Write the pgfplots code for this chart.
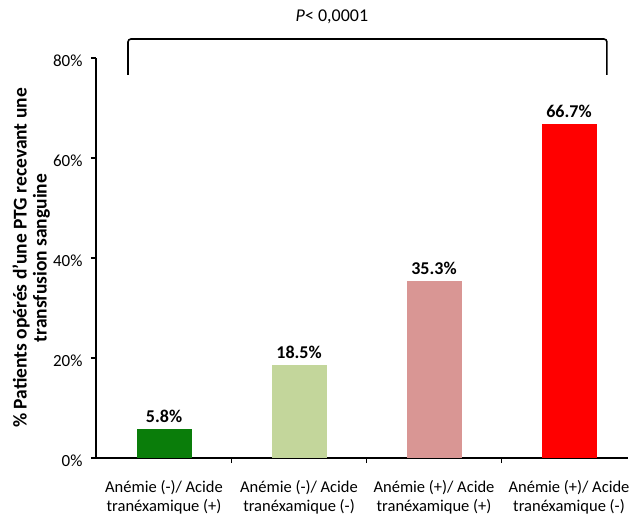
\documentclass[border=0pt]{standalone}
\usepackage{pgfplots}
\pgfplotsset{compat=1.18}
\usepackage{fontspec}
\setmainfont{Carlito}
\definecolor{c1}{RGB}{10,125,10}
\definecolor{c2}{RGB}{195,214,155}
\definecolor{c3}{RGB}{217,150,148}
\definecolor{c4}{RGB}{255,0,0}
\begin{document}
\begin{tikzpicture}
\path[use as bounding box] (-96pt,-59pt) rectangle (534pt,458pt);
\begin{axis}[
  at={(0pt,0pt)}, anchor=south west,
  scale only axis, width=532pt, height=400pt,
  xmin=-0.504, xmax=3.437, ymin=0, ymax=80,
  axis x line=bottom, axis y line=left,
  axis line style={line width=1.6pt,-},
  x axis line style={-}, y axis line style={-},
  xtick={0,1,2,3},
  xticklabels={},
  major x tick style={draw=none},
  minor xtick={0.5,1.5,2.5},
  minor x tick style={line width=1.4pt,black},
  minor tick length=5pt,
  ytick={0,20,40,60,80},
  yticklabel={\pgfmathprintnumber{\tick}\%},
  y tick style={line width=1.4pt,black},
  major tick length=5pt,
  tick align=outside,
  yticklabel style={font=\fontsize{17}{19}\selectfont, xshift=-5pt, yshift=-3pt},
  /pgf/number format/assume math mode=true,
  ylabel={\textbf{\% Patients opérés d'une PTG recevant une}\\\textbf{transfusion sanguine}},
  ylabel style={font=\fontsize{19.5}{20}\selectfont, align=center, at={(axis description cs:-0.122,0.5)}, anchor=center},
  clip=false,
  bar width=55pt,
  nodes near coords={\textbf{\pgfmathprintnumber[fixed,precision=1]{\pgfplotspointmeta}\%}},
  nodes near coords style={font=\fontsize{18}{20}\selectfont, yshift=3pt},
]
\addplot[ybar, fill=c1, draw=none] coordinates {(0,5.8)};
\addplot[ybar, fill=c2, draw=none] coordinates {(1,18.5)};
\addplot[ybar, fill=c3, draw=none] coordinates {(2,35.3)};
\addplot[ybar, fill=c4, draw=none] coordinates {(3,66.7)};
\foreach \i/\lab in {0/{Anémie (-)/ Acide\\tranéxamique (+)},1/{Anémie (-)/ Acide\\tranéxamique (-)},2/{Anémie (+)/ Acide\\tranéxamique (+)},3/{Anémie (+)/ Acide\\tranéxamique (-)}}{
  \edef\temp{\noexpand\node[anchor=north, align=center, font=\noexpand\fontsize{16.5}{19}\noexpand\selectfont, yshift=-19pt] at (axis cs:\i,0) {\unexpanded\expandafter{\lab}};}
  \temp
}
\draw[line width=1.6pt, rounded corners=3pt] (axis cs:-0.267,76.6) -- (axis cs:-0.267,83.8) -- (axis cs:3.281,83.8) -- (axis cs:3.281,76.6);
\node[font=\fontsize{18}{20}\selectfont] at (axis cs:1.244,88.2) {\textit{P}< 0,0001};
\end{axis}
\end{tikzpicture}
\end{document}
